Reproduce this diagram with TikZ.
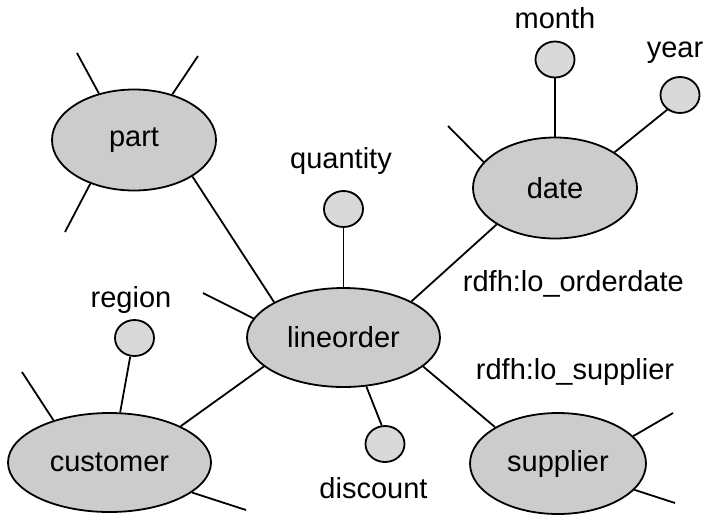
\documentclass[tikz,border=0pt]{standalone}
\usepackage{fontspec}
\setmainfont{Liberation Sans}
\usetikzlibrary{shapes.geometric}

\begin{document}
\begin{tikzpicture}[x=1pt, y=-1pt, line width=1.8pt, font=\fontsize{29}{34}\selectfont,
    table/.style={ellipse, draw, fill=black!20, inner sep=0pt},
    attr/.style={ellipse, draw, fill=black!15, inner sep=0pt, minimum width=39pt, minimum height=36pt},
    lbl/.style={anchor=base, inner sep=0pt}]
				  \useasboundingbox (0,0) rectangle (703,517);
				  \node[table, minimum width=164pt, minimum height=101pt] (part) at (134,140) {part};
				  \node[table, minimum width=164pt, minimum height=101pt] (date) at (555,188) {date};
				  \node[table, minimum width=193pt, minimum height=99pt] (lineorder) at (343.5,337.5) {lineorder};
				  \node[table, minimum width=203pt, minimum height=99pt] (customer) at (109.5,462.5) {customer};
				  \node[table, minimum width=176pt, minimum height=101pt] (supplier) at (558,463.5) {supplier};
				  \node[attr] (quantity) at (343.5,209) {};
				  \node[attr] (month) at (555,59.5) {};
				  \node[attr] (year) at (680,95) {};
				  \node[attr] (region) at (134.5,338) {};
				  \node[attr] (discount) at (385,444) {};
				  \node[lbl] (quantitylbl) at (341,168) {quantity};
				  \node[lbl] (monthlbl) at (555,28) {month};
				  \node[lbl] (yearlbl) at (675,57) {year};
				  \node[lbl] (regionlbl) at (131,307) {region};
				  \node[lbl] (discountlbl) at (373.5,498) {discount};
				  \node[lbl, anchor=base west] (orderdatelbl) at (462,291) {rdfh:lo\_orderdate};
				  \node[lbl, anchor=base west] (supplierlbl) at (475,379) {rdfh:lo\_supplier};
				  \draw (part.-32) -- (lineorder.153);
				  \draw (date.-148) -- (lineorder.28);
				  \draw (lineorder.200) -- (customer.27);
				  \draw (lineorder.-20) -- (supplier.150);
				  \draw (quantity) -- (lineorder);
				  \draw (month) -- (date);
				  \draw (year.229) -- (date.31);
				  \draw (region.257) -- (customer.78);
				  \draw (discount.100) -- (lineorder.-65);
				  \coordinate (1) at (77,53);
				  \coordinate (2) at (198,56);
				  \coordinate (3) at (65,232);
				  \coordinate (4) at (448,126);
				  \coordinate (5) at (203,293);
				  \coordinate (6) at (22,372);
				  \coordinate (7) at (246,510);
				  \coordinate (8) at (673,413);
				  \coordinate (9) at (675,503);
				  \draw (part.127) -- (1);
				  \draw (part.50) -- (2);
				  \draw (part.225) -- (3);
				  \draw (date.160) -- (4);
				  \draw (lineorder.168) -- (5);
				  \draw (customer.143) -- (6);
				  \draw (customer.-20) -- (7);
				  \draw (supplier.20) -- (8);
				  \draw (supplier.-19) -- (9);
				\end{tikzpicture}
\end{document}
